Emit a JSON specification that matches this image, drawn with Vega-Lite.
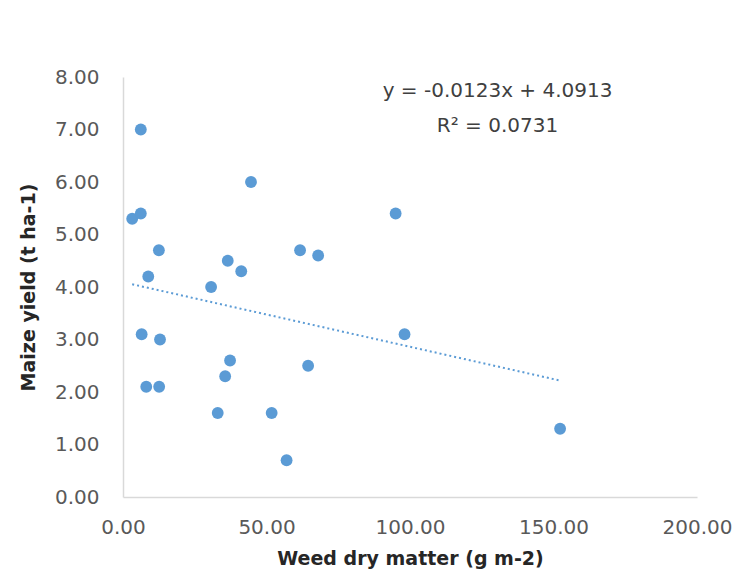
{
  "$schema": "https://vega.github.io/schema/vega-lite/v6.json",
  "width": 574,
  "height": 420,
  "autosize": {"type": "none"},
  "padding": {"left": 123, "top": 77, "right": 45, "bottom": 89},
  "background": "white",
  "config": {
    "view": {"stroke": null},
    "font": "DejaVu Sans",
    "axis": {
      "grid": false,
      "ticks": false,
      "labelFlush": false,
      "labelOverlap": false,
      "domainColor": "#d9d9d9",
      "domainWidth": 1.5,
      "labelFont": "DejaVu Sans",
      "labelFontSize": 20,
      "labelColor": "#595959",
      "titleFont": "DejaVu Sans",
      "titleFontSize": 19,
      "titleFontWeight": "bold",
      "titleColor": "#262626"
    }
  },
  "datasets": {
    "points": [
      {"weed": 6.2, "yield": 7.0},
      {"weed": 44.6, "yield": 6.0},
      {"weed": 3.2, "yield": 5.3},
      {"weed": 6.2, "yield": 5.4},
      {"weed": 12.5, "yield": 4.7},
      {"weed": 61.7, "yield": 4.7},
      {"weed": 68.0, "yield": 4.6},
      {"weed": 36.5, "yield": 4.5},
      {"weed": 41.2, "yield": 4.3},
      {"weed": 8.8, "yield": 4.2},
      {"weed": 30.7, "yield": 4.0},
      {"weed": 6.5, "yield": 3.1},
      {"weed": 12.9, "yield": 3.0},
      {"weed": 37.3, "yield": 2.6},
      {"weed": 64.5, "yield": 2.5},
      {"weed": 35.6, "yield": 2.3},
      {"weed": 8.1, "yield": 2.1},
      {"weed": 12.6, "yield": 2.1},
      {"weed": 33.0, "yield": 1.6},
      {"weed": 51.8, "yield": 1.6},
      {"weed": 57.0, "yield": 0.7},
      {"weed": 95.0, "yield": 5.4},
      {"weed": 98.1, "yield": 3.1},
      {"weed": 152.3, "yield": 1.3}
    ],
    "trend": [
      {"weed": 3.2, "yield": 4.052},
      {"weed": 152.3, "yield": 2.218}
    ]
  },
  "layer": [
    {
      "data": {"name": "trend"},
      "mark": {"type": "line", "color": "#5B9BD5", "strokeWidth": 2, "strokeDash": [2, 3]},
      "encoding": {
        "x": {"field": "weed", "type": "quantitative", "scale": {"domain": [0, 200], "nice": false},
          "axis": {"values": [0, 50, 100, 150, 200], "format": ".2f", "title": "Weed dry matter (g m-2)", "labelPadding": 20, "titlePadding": 12}},
        "y": {"field": "yield", "type": "quantitative", "scale": {"domain": [0, 8], "nice": false},
          "axis": {"values": [0, 1, 2, 3, 4, 5, 6, 7, 8], "format": ".2f", "title": "Maize yield (t ha-1)", "labelPadding": 24, "titlePadding": 16}}
      }
    },
    {
      "data": {"name": "points"},
      "mark": {"type": "circle", "color": "#5B9BD5", "size": 140, "opacity": 1},
      "encoding": {
        "x": {"field": "weed", "type": "quantitative"},
        "y": {"field": "yield", "type": "quantitative"}
      }
    },
    {
      "data": {"values": [{}]},
      "mark": {"type": "text", "text": ["y = -0.0123x + 4.0913", "R² = 0.0731"], "lineHeight": 35, "fontSize": 20, "color": "#404040", "font": "DejaVu Sans", "align": "center", "baseline": "middle"},
      "encoding": {
        "x": {"datum": 130.5},
        "y": {"datum": 7.73}
      }
    }
  ]
}
